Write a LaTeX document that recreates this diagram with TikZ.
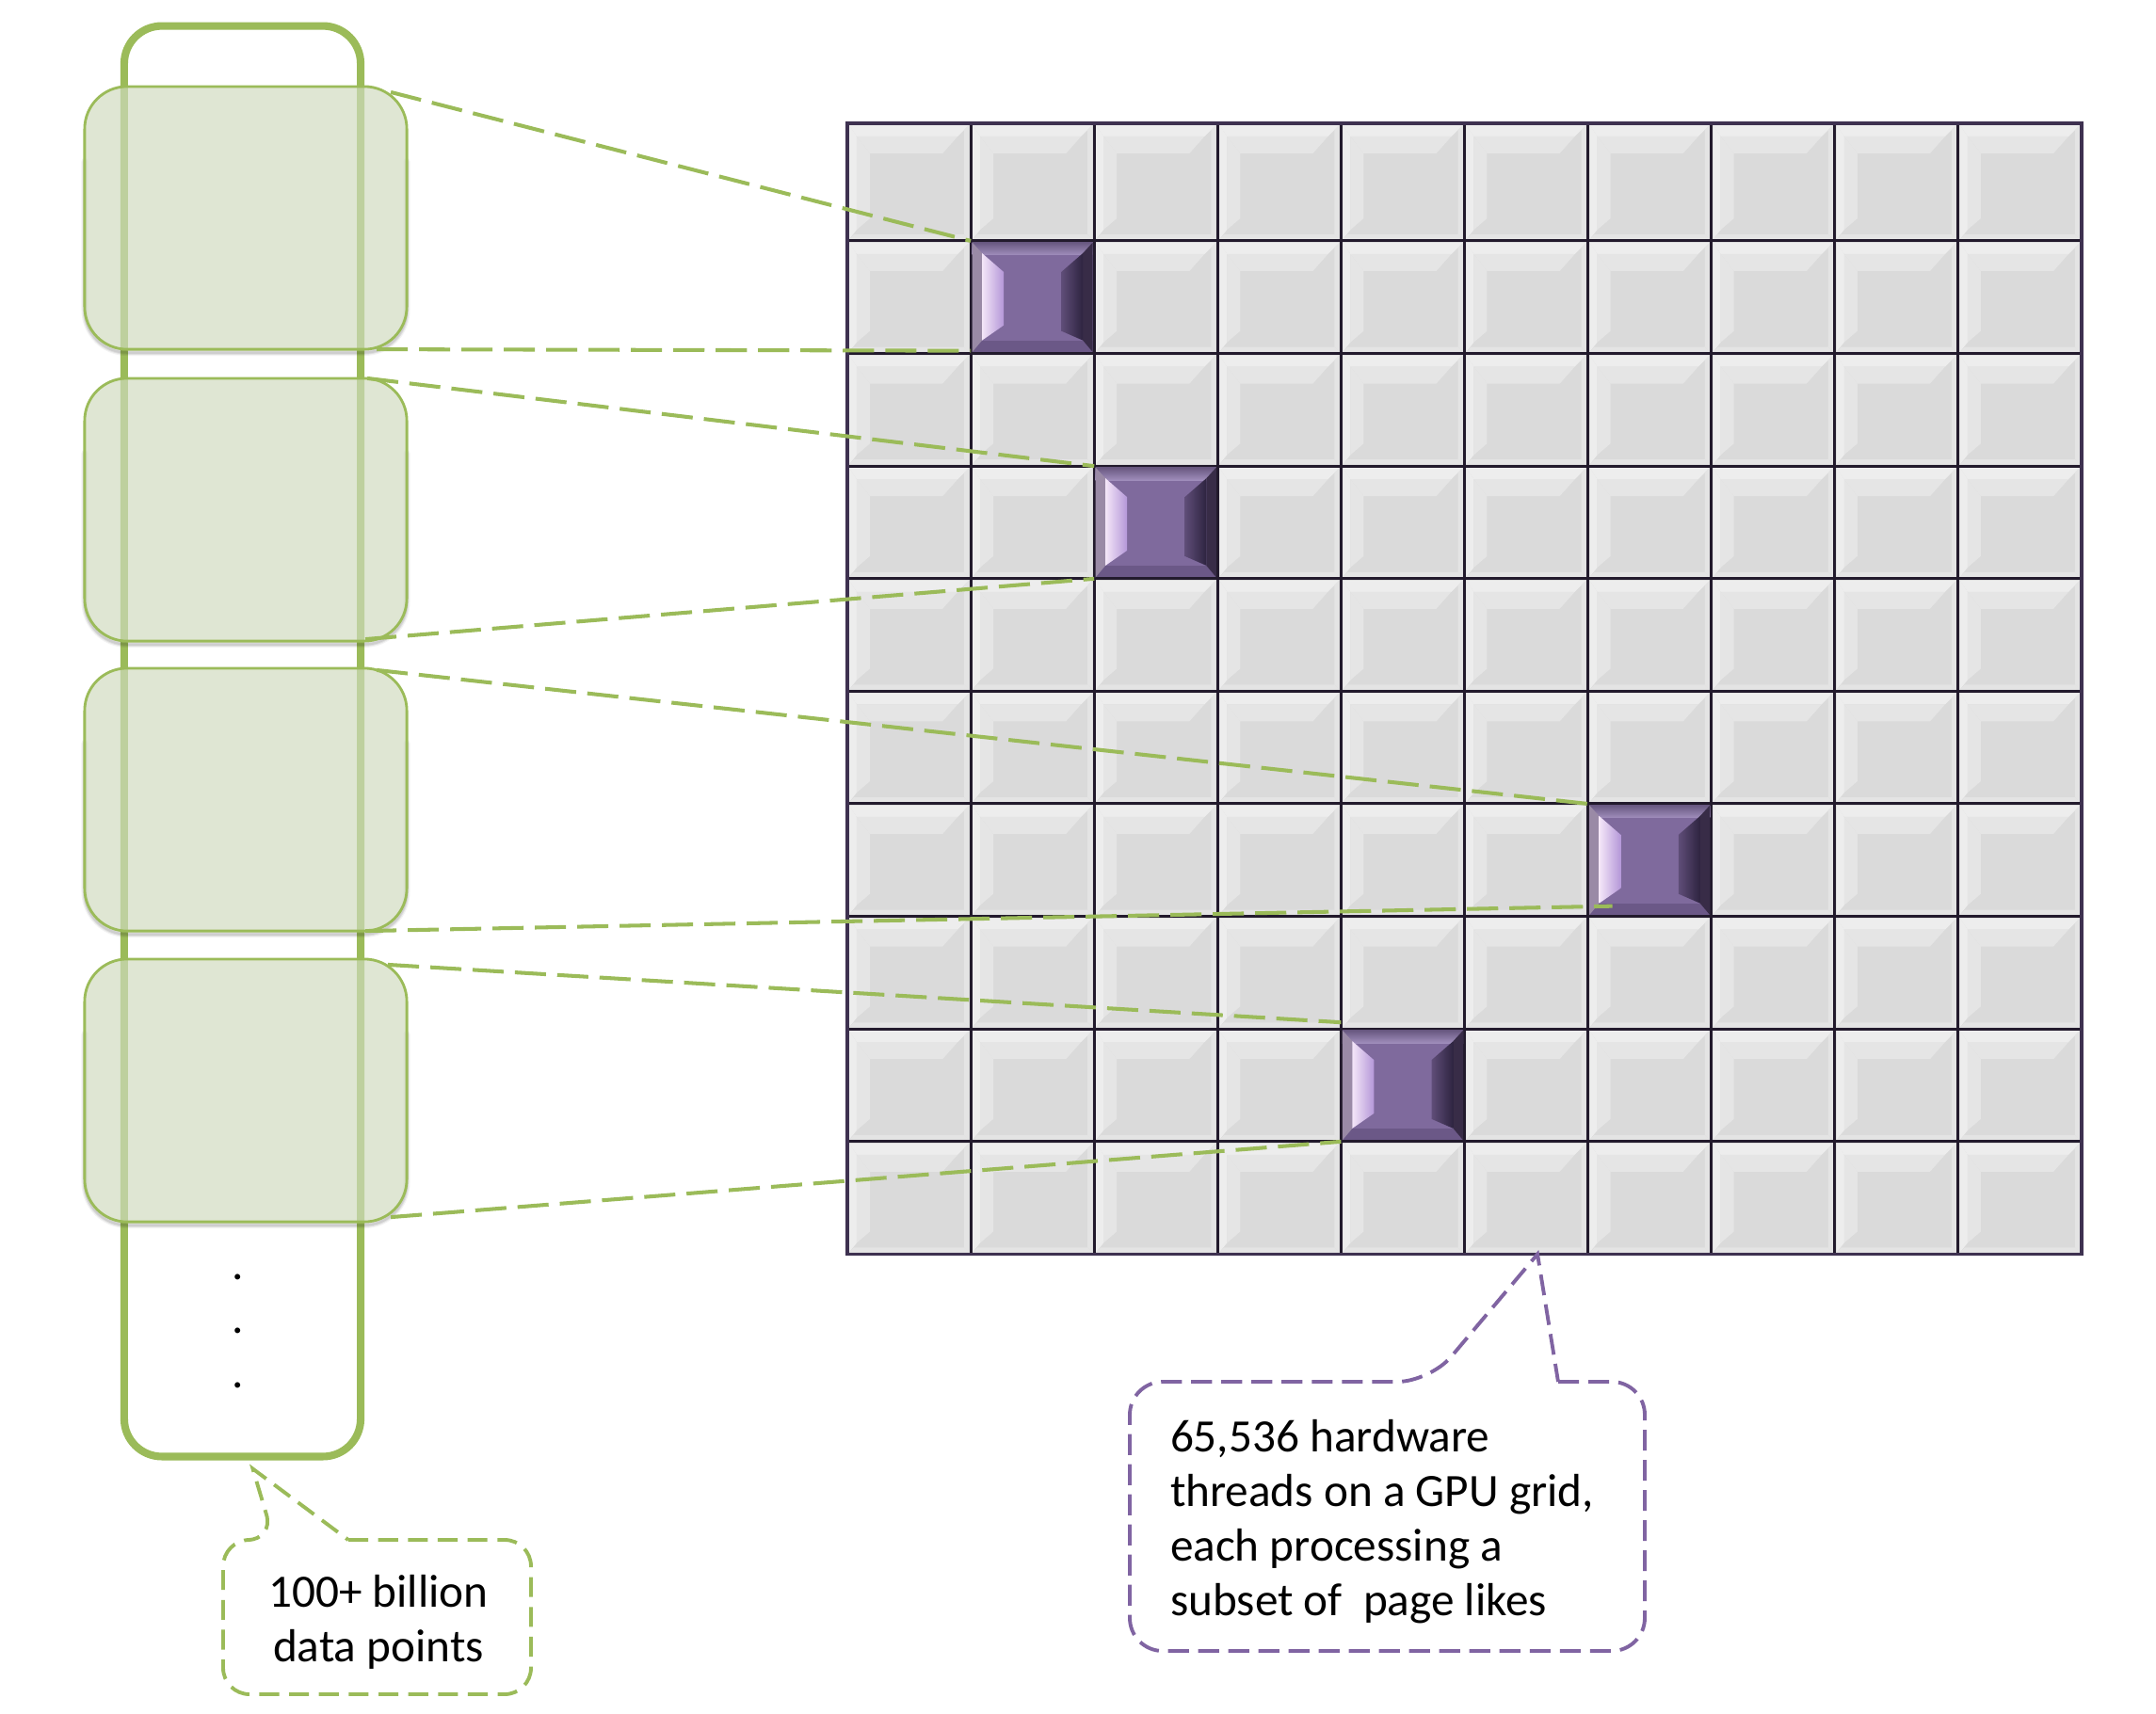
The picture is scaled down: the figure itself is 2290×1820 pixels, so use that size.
\documentclass[tikz,border=0pt]{standalone}
\usepackage{fontspec}
\setmainfont{Carlito}
\usetikzlibrary{calc}

\definecolor{gGreen}{HTML}{9BBB59}
\definecolor{gBoxFill}{HTML}{D0DBBF}
\definecolor{gPurple}{HTML}{8064A2}
\definecolor{gridDark}{HTML}{221A2C}
\definecolor{gridOuter}{HTML}{3E3150}
\definecolor{cellBase}{HTML}{DADADA}
\definecolor{cellOuter}{HTML}{EDEDED}
\definecolor{cellInner}{HTML}{E5E5E5}
\definecolor{cellEdge}{HTML}{E4E4E4}
\definecolor{pBase}{HTML}{7F6A9D}
\definecolor{pTopA}{HTML}{685880}
\definecolor{pTopB}{HTML}{A08EBC}
\definecolor{pBottom}{HTML}{6B5887}
\definecolor{pLeftStrip}{HTML}{9A8AA6}
\definecolor{pRightStrip}{HTML}{382C47}
\definecolor{pLightA}{HTML}{F4E6F8}
\definecolor{pLightB}{HTML}{B497D8}
\definecolor{pDarkA}{HTML}{5F4D78}
\definecolor{pDarkB}{HTML}{2E2440}

\begin{document}
\begin{tikzpicture}[x=0.01cm, y=-0.01cm,
  tallbox/.style={draw=gGreen, line width=2.3pt, rounded corners=0.4cm,
    minimum width=2.51cm, minimum height=15.19cm, inner sep=0pt, outer sep=0pt},
  databox/.style={draw=gGreen, line width=0.8pt, fill=gBoxFill, fill opacity=0.68,
    rounded corners=0.45cm, minimum width=3.42cm, minimum height=2.79cm,
    inner sep=0pt, outer sep=0pt},
  boxshadow/.style={draw=black, rounded corners=0.45cm, line cap=round},
  cellbox/.style={draw=gridDark, line width=0.85pt, fill=cellBase,
    minimum width=1.311cm, inner sep=0pt, outer sep=0pt},
  link/.style={draw=gGreen, line width=1.15pt, dash pattern=on 9.4pt off 3.4pt},
  calloutG/.style={draw=gGreen, line width=1.1pt, dash pattern=on 6pt off 3pt,
    rounded corners=0.28cm},
  calloutP/.style={draw=gPurple, line width=1.1pt, dash pattern=on 6.3pt off 2.8pt,
    rounded corners=0.35cm},
  txt/.style={font=\fontsize{14}{16.5}\selectfont, inner sep=0pt, outer sep=0pt},
  dotmark/.style={font=\fontsize{14}{16.5}\selectfont, inner sep=0pt}
]
\fill[white] (0,0) rectangle (2290,1820);
\useasboundingbox (0,0) rectangle (2290,1820);

% tall data column
\node[tallbox] (col) at (257.5,787.5) {};

% data chunks (soft shadow first)
\foreach \yc in {231.5,541.5,849.5,1158.5}{
  \foreach \w/\o in {7/0.05,4.5/0.07,2.5/0.08}{
    \draw[boxshadow, line width=\w*0.2845pt, opacity=\o]
      (90,\yc-60) -- (90,\yc+143) -- (432,\yc+143) -- (432,\yc-60);
  }
}
\node[databox] (b1) at (261,231.5) {};
\node[databox] (b2) at (261,541.5) {};
\node[databox] (b3) at (261,849.5) {};
\node[databox] (b4) at (261,1158.5) {};

% dots
\node[dotmark, anchor=base] (d1) at (253,1359) {.};
\node[dotmark, anchor=base] (d2) at (253,1416) {.};
\node[dotmark, anchor=base] (d3) at (253,1474) {.};

% GPU grid
\foreach \i in {0,...,9}{
  \foreach \j in {0,...,9}{
    \pgfmathsetmacro{\cx}{965.55+131.1*\i}
    \pgfmathsetmacro{\ytop}{\j==0 ? 131 : 256+119.6*(\j-1)}
    \pgfmathsetmacro{\hh}{\j==0 ? 125 : 119.6}
    \pgfmathsetmacro{\cy}{\ytop+\hh/2}
    \pgfmathsetmacro{\hcm}{\hh/100}
    \node[cellbox, minimum height=\hcm cm] (c-\i-\j) at (\cx,\cy) {};
    \def\nn{c-\i-\j}
    \fill[cellOuter] ($(\nn.north west)+(2,2)$) -- ($(\nn.north east)+(-2,2)$)
      -- ($(\nn.north east)+(-14,14)$) -- ($(\nn.north west)+(10,14)$) -- cycle;
    \fill[cellOuter] ($(\nn.north west)+(2,2)$) -- ($(\nn.north west)+(10,14)$)
      -- ($(\nn.south west)+(10,-12)$) -- ($(\nn.south west)+(2,-2)$) -- cycle;
    \fill[cellInner] ($(\nn.north west)+(10,14)$) -- ($(\nn.north east)+(-14,14)$)
      -- ($(\nn.north east)+(-30,32)$) -- ($(\nn.north west)+(24,32)$) -- cycle;
    \fill[cellInner] ($(\nn.north west)+(10,14)$) -- ($(\nn.north west)+(24,32)$)
      -- ($(\nn.south west)+(24,-24)$) -- ($(\nn.south west)+(10,-12)$) -- cycle;
    \fill[cellEdge] ($(\nn.north east)+(-2,2)$) -- ($(\nn.south east)+(-2,-2)$)
      -- ($(\nn.south east)+(-7,-7)$) -- ($(\nn.north east)+(-7,7)$) -- cycle;
    \fill[cellEdge] ($(\nn.south west)+(2,-2)$) -- ($(\nn.south east)+(-2,-2)$)
      -- ($(\nn.south east)+(-7,-7)$) -- ($(\nn.south west)+(7,-7)$) -- cycle;
  }
}

% active threads (purple cells)
\foreach \i/\j in {1/1,2/3,6/6,4/8}{
  \def\nn{c-\i-\j}
  \fill[pBase] ($(\nn.north west)+(1.5,1.5)$) rectangle ($(\nn.south east)+(-1.5,-1.5)$);
  \shade[top color=pTopA, bottom color=pTopB]
    ($(\nn.north west)+(1.5,1.5)$) rectangle ($(\nn.north east)+(-1.5,15)$);
  \fill[pBottom] ($(\nn.south west)+(1.5,-14)$) rectangle ($(\nn.south east)+(-1.5,-1.5)$);
  \fill[pLeftStrip] ($(\nn.north west)+(1.5,1.5)$) -- ($(\nn.north west)+(12,13)$)
    -- ($(\nn.south west)+(12,-14)$) -- ($(\nn.south west)+(1.5,-1.5)$) -- cycle;
  \fill[pRightStrip] ($(\nn.north east)+(-1.5,1.5)$) -- ($(\nn.north east)+(-12,13)$)
    -- ($(\nn.south east)+(-12,-14)$) -- ($(\nn.south east)+(-1.5,-1.5)$) -- cycle;
  \shade[left color=pLightA, right color=pLightB]
    ($(\nn.north west)+(12,13)$) -- ($(\nn.north west)+(35,33)$)
    -- ($(\nn.south west)+(35,-30)$) -- ($(\nn.south west)+(12,-14)$) -- cycle;
  \shade[left color=pDarkA, right color=pDarkB]
    ($(\nn.north east)+(-12,13)$) -- ($(\nn.north east)+(-35,33)$)
    -- ($(\nn.south east)+(-35,-24)$) -- ($(\nn.south east)+(-12,-14)$) -- cycle;
}

% grid outline
\draw[gridOuter, line width=1pt] (c-0-0.north west) rectangle (c-9-9.south east);

% mapping lines
\draw[link] ([shift={(-17,6)}]b1.north east) -- (c-1-1.north west);
\draw[link] ([shift={(-32,0)}]b1.south east) -- ([shift={(0,-3)}]c-1-1.south west);
\draw[link] ([shift={(-42,0)}]b2.north east) -- (c-2-3.north west);
\draw[link] ([shift={(-44,-2)}]b2.south east) -- (c-2-3.south west);
\draw[link] ([shift={(-32,2)}]b3.north east) -- (c-6-6.north west);
\draw[link] ([shift={(-44,0)}]b3.south east) -- ([shift={(26,-11)}]c-6-6.south west);
\draw[link] ([shift={(-20,6)}]b4.north east) -- ([shift={(0,-7)}]c-4-8.north west);
\draw[link] ([shift={(-17,-5)}]b4.south east) -- (c-4-8.south west);

% callout: data points
\coordinate (tipL) at ([shift={(11,13)}]col.south);
\draw[calloutG] (370,1636) -- (564,1636) -- (564,1800) -- (237,1800) -- (237,1636)
  -- (291,1636) [sharp corners] -- (tipL) -- cycle;
\node[txt, anchor=north, align=center] (t1) at (402,1673) {100+ billion\\data points};

% callout: GPU threads
\coordinate (tipR) at ([shift={(12,0)}]c-5-9.south);
\draw[calloutP] (1655,1468) -- (1747,1468) -- (1747,1754) -- (1200,1754) -- (1200,1468)
  -- (1519,1468) [sharp corners] -- (tipR) -- cycle;
\node[txt, anchor=north west, align=left] (t2) at (1243,1508)
  {65,536 hardware\\threads on a GPU grid,\\each processing a\\subset of~ page likes};
\end{tikzpicture}
\end{document}
